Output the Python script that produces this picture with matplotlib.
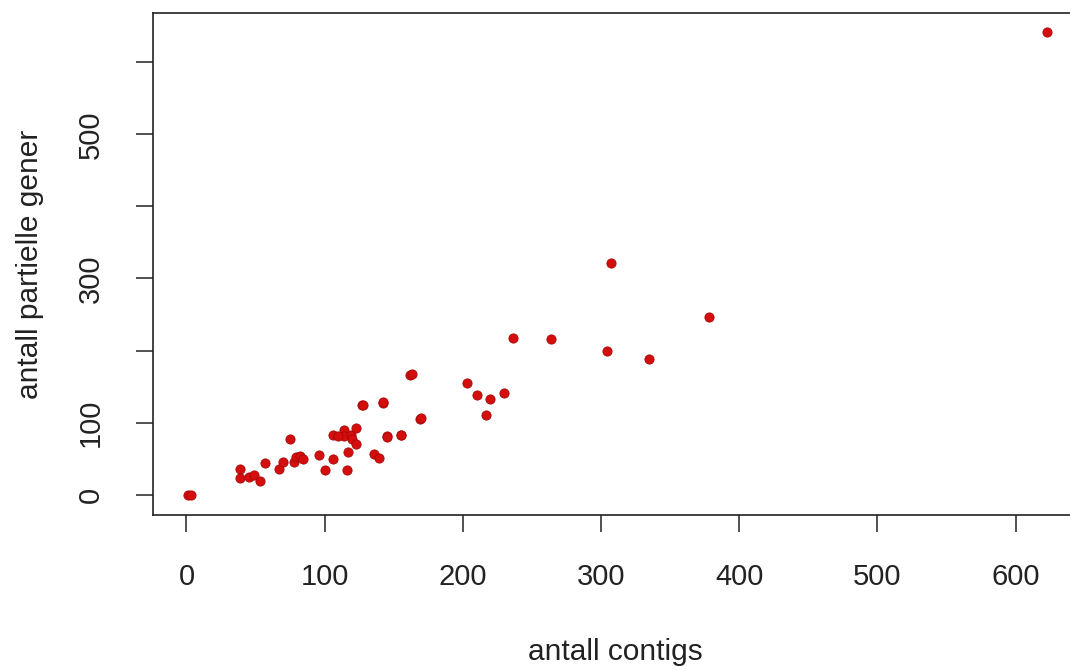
import matplotlib
matplotlib.use("Agg")
import matplotlib.pyplot as plt

# data
contigs = [623, 307, 378, 236, 264, 304, 335, 162, 203, 210, 220, 230, 217, 169,
           127, 142, 145, 155, 75, 1, 3, 39, 39, 45, 49, 53, 57, 67, 70, 78, 79,
           82, 84, 96, 100, 106, 117, 116, 106, 114, 114, 119, 123, 120, 123, 110,
           128, 142, 136, 139, 145, 155, 163, 170]
partielle = [642, 321, 246, 218, 216, 199, 188, 166, 155, 138, 133, 141, 111, 105,
             124, 127, 81, 83, 78, 0, 0, 36, 23, 25, 27, 19, 44, 36, 45, 45, 52,
             54, 50, 55, 34, 50, 59, 34, 83, 90, 82, 83, 92, 78, 70, 82,
             125, 128, 56, 51, 80, 83, 167, 106]

x_ticks = [0, 100, 200, 300, 400, 500, 600]
x_tick_labels = ["0", "100", "200", "300", "400", "500", "600"]
y_ticks = [0, 100, 200, 300, 400, 500, 600]
y_tick_labels = ["0", "100", "", "300", "", "500", ""]
x_label = "antall contigs"
y_label = "antall partielle gener"

plt.rcParams['font.family'] = ['Liberation Sans', 'DejaVu Sans']

fig = plt.figure(figsize=(10.7, 6.7), dpi=100)
W, H = 1070, 670
ax = fig.add_axes([153 / W, (H - 515) / H, (1082 - 153) / W, (515 - 12.5) / H])

ax.scatter(contigs, partielle, s=44, c="#d40d0d", edgecolors="#a80808",
           linewidths=0.6, zorder=3)

ax.set_xlim(-24.2, 648)
ax.set_ylim(-28.1, 669)

ax.set_xticks(x_ticks)
ax.set_xticklabels(x_tick_labels)
ax.set_yticks(y_ticks)
ax.set_yticklabels(y_tick_labels, rotation=90, va="center")

for sp in ax.spines.values():
    sp.set_linewidth(1.2)
    sp.set_color("#222222")

ax.tick_params(axis="both", length=12.5, width=1.1, color="#222222",
               labelsize=21, labelcolor="#222222", pad=22)

fig.text(615 / W, 1 - 652 / H, x_label, ha="center", va="center",
         fontsize=21.5, color="#222222")
fig.text(30 / W, 1 - 264 / H, y_label, ha="center", va="center",
         rotation=90, fontsize=21.5, color="#222222")

fig.savefig("out.png", dpi=100)
